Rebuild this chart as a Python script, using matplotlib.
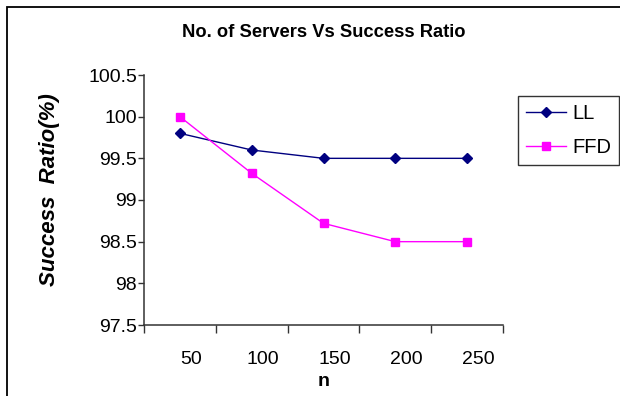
import numpy as np
import matplotlib.pyplot as plt
from matplotlib.patches import Rectangle
from matplotlib.transforms import ScaledTranslation

plt.rcParams['font.family'] = ['Liberation Sans', 'DejaVu Sans']

# number of servers vs success ratio
n = [50, 100, 150, 200, 250]
ll = [99.8, 99.6, 99.5, 99.5, 99.5]
ffd = [100.0, 99.32, 98.72, 98.5, 98.5]
y_ticks = [97.5, 98, 98.5, 99, 99.5, 100, 100.5]

fig = plt.figure(figsize=(6.2, 3.96), dpi=100)
ax = fig.add_axes([144 / 620, 1 - 325 / 396, 359 / 620, 250 / 396])

x = np.arange(len(n))
ax.plot(x, ll, color='#000080', lw=1.0, marker='D', ms=5.5, mec='#000080', label='LL')
ax.plot(x, ffd, color='#FF00FF', lw=1.0, marker='s', ms=6, mec='#FF00FF', label='FFD')

ax.set_xlim(-0.5, len(n) - 0.5)
ax.set_ylim(97.5, 100.5)
ax.set_yticks(y_ticks)
ax.set_yticklabels([f'{v:g}' for v in y_ticks])

# category axis: ticks between categories, labels near the centres
ax.set_xticks(np.arange(-0.5, len(n)), labels=[])
ax.set_xticks(x, labels=[str(v) for v in n], minor=True)
ax.tick_params(axis='x', which='major', direction='out', length=6, width=1, color='#333333')
ax.tick_params(axis='x', which='minor', length=0, pad=19, labelsize=14)
ax.tick_params(axis='y', direction='out', length=4, width=1, color='#333333', labelsize=14, pad=1)
shift = ScaledTranslation(11 / 100, 0, fig.dpi_scale_trans)
for lbl in ax.xaxis.get_minorticklabels():
    lbl.set_transform(lbl.get_transform() + shift)

for side in ['top', 'right']:
    ax.spines[side].set_visible(False)
for side in ['left', 'bottom']:
    ax.spines[side].set_color('#333333')
    ax.spines[side].set_linewidth(1.1)

ax.set_xlabel('n', fontsize=14, fontweight='bold', labelpad=3)
ax.set_ylabel('Success  Ratio(%)', fontsize=16, fontweight='bold', style='italic')
ax.yaxis.set_label_coords(-0.233, 0.54)

fig.text(324 / 620, 1 - 37 / 396, 'No. of Servers Vs Success Ratio', ha='center', va='baseline',
         fontsize=13.2, fontweight='bold')

leg = ax.legend(loc='upper left', bbox_to_anchor=(518 / 620, 1 - 96 / 396), bbox_transform=fig.transFigure,
                fontsize=14.5, frameon=True, fancybox=False, edgecolor='black', handlelength=2.0,
                borderpad=0.4, labelspacing=0.75, handletextpad=0.3, borderaxespad=0)
leg.get_frame().set_linewidth(1)

# chart area border
fig.patches.append(Rectangle((7 / 620, -0.1), 1.1, 1 - 7 / 396 + 0.1, transform=fig.transFigure,
                             fill=False, edgecolor='black', lw=1.3))

fig.savefig('out.png', dpi=100)
